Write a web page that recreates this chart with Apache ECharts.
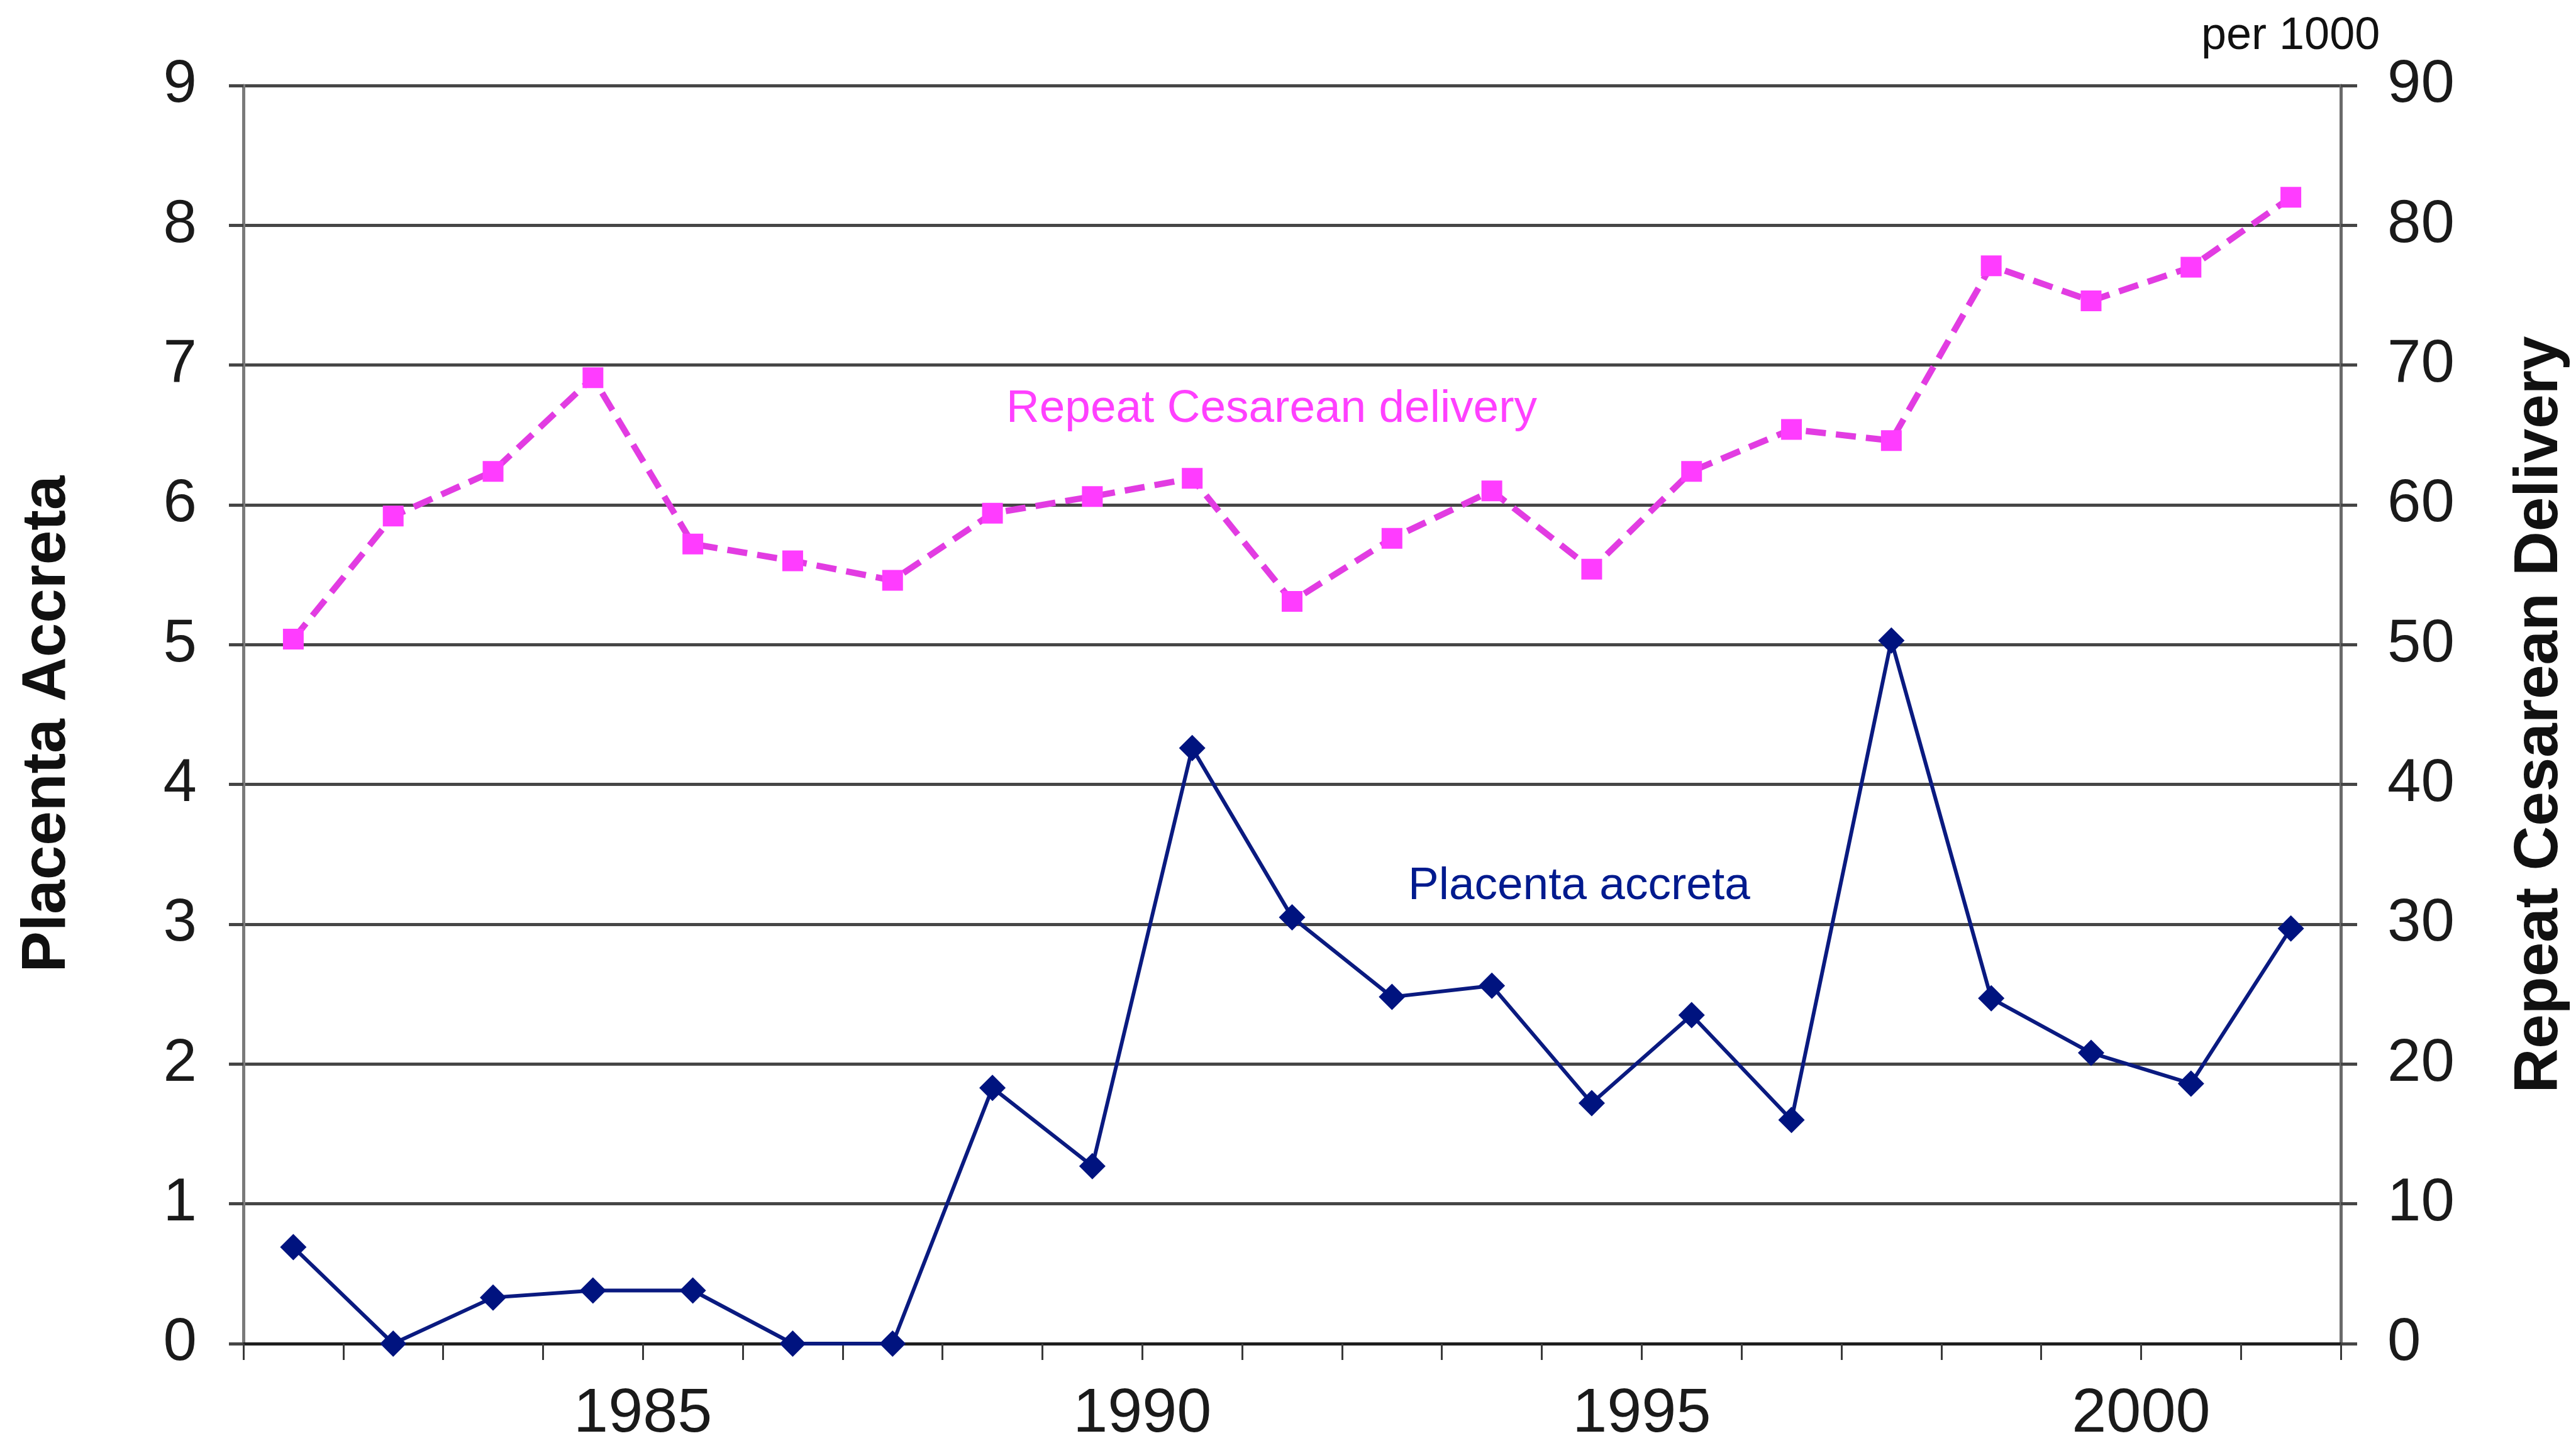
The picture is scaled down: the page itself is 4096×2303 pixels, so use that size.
<!DOCTYPE html>
<html>
<head>
<meta charset="utf-8">
<script src="https://cdn.jsdelivr.net/npm/echarts@6/dist/echarts.min.js"></script>
<style>
html,body{margin:0;padding:0;background:#fff;}
#chart{width:4096px;height:2303px;}
</style>
</head>
<body>
<div id="chart"></div>
<script>
// Year bins (each point sits at the middle of its year on the axis)
const years = [1981,1982,1983,1984,1985,1986,1987,1988,1989,1990,1991,1992,1993,1994,1995,1996,1997,1998,1999,2000,2001];
// Placenta accreta (left axis)
const accreta = [0.69,0,0.33,0.38,0.38,0,0,1.83,1.27,4.26,3.05,2.48,2.56,1.72,2.35,1.60,5.03,2.47,2.08,1.86,2.97];
// Repeat Cesarean delivery, per 1000 (right axis)
const repeatCesarean = [50.4,59.2,62.4,69.1,57.2,56.0,54.6,59.4,60.6,61.9,53.1,57.6,61.0,55.4,62.4,65.4,64.6,77.1,74.6,77.0,82.0];
// Axis ticks
const xMin = 1981, xMax = 2002, xLabelEvery = 5;
const leftTicks = {min: 0, max: 9, interval: 1};
const rightTicks = {min: 0, max: 90, interval: 10};
const leftTitle = 'Placenta Accreta';
const rightTitle = 'Repeat Cesarean Delivery';
const seriesNames = ['Placenta accreta', 'Repeat Cesarean delivery'];
const unitNote = 'per 1000';

const FONT = '"Liberation Sans", Arial, Helvetica, sans-serif';
const chart = echarts.init(document.getElementById('chart'));

const option = {
  backgroundColor: '#ffffff',
  animation: false,
  grid: {left: 387, right: 372, top: 136, bottom: 166, containLabel: false},
  xAxis: {
    type: 'value', min: xMin, max: xMax, interval: 1,
    axisLine: {show: true, lineStyle: {color: '#1e1e1e', width: 5}},
    axisTick: {show: true, inside: false, length: 26, lineStyle: {color: '#3a3a3a', width: 3}},
    splitLine: {show: false},
    axisLabel: {
      show: true, margin: 63, fontSize: 99, color: '#1a1a1a', fontFamily: FONT,
      formatter: v => (v % xLabelEvery === 0 ? String(v) : '')
    }
  },
  yAxis: [
    {
      type: 'value', position: 'left', min: leftTicks.min, max: leftTicks.max, interval: leftTicks.interval,
      name: leftTitle, nameLocation: 'middle', nameRotate: 90, nameGap: 262,
      nameTextStyle: {fontSize: 98, fontWeight: 'bold', color: '#111', fontFamily: FONT, padding: [0, 30, 0, 0]},
      axisLine: {show: true, lineStyle: {color: '#7a7a7a', width: 5}},
      axisTick: {show: true, inside: false, length: 23, lineStyle: {color: '#454545', width: 5}},
      splitLine: {show: true, lineStyle: {color: '#464646', width: 5}},
      axisLabel: {margin: 74, fontSize: 96, color: '#1a1a1a', fontFamily: FONT}
    },
    {
      type: 'value', position: 'right', min: rightTicks.min, max: rightTicks.max, interval: rightTicks.interval,
      name: rightTitle, nameLocation: 'middle', nameRotate: 90, nameGap: 268,
      nameTextStyle: {fontSize: 98, fontWeight: 'bold', color: '#111', fontFamily: FONT},
      axisLine: {show: true, lineStyle: {color: '#6a6a6a', width: 5}},
      axisTick: {show: true, inside: false, length: 26, lineStyle: {color: '#454545', width: 5}},
      splitLine: {show: false},
      axisLabel: {margin: 74, fontSize: 96, color: '#1a1a1a', fontFamily: FONT}
    }
  ],
  series: [
    {
      name: seriesNames[0], type: 'line', xAxisIndex: 0, yAxisIndex: 0,
      data: years.map((y, i) => [y + 0.5, accreta[i]]),
      symbol: 'diamond', symbolSize: 42,
      lineStyle: {color: '#0a1a80', width: 6},
      itemStyle: {color: '#00137f', borderWidth: 0},
      z: 4
    },
    {
      name: seriesNames[1], type: 'line', xAxisIndex: 0, yAxisIndex: 1,
      data: years.map((y, i) => [y + 0.5, repeatCesarean[i]]),
      symbol: 'rect', symbolSize: 33,
      lineStyle: {color: '#e23ce2', width: 10, type: [32, 16]},
      itemStyle: {color: '#ff3cff', borderWidth: 0},
      z: 5
    }
  ],
  graphic: [
    {type: 'text', left: 1600, top: 614, style: {text: seriesNames[1], fontSize: 73, fontFamily: FONT, fill: '#ff40ff'}},
    {type: 'text', left: 2239, top: 1373, style: {text: seriesNames[0], fontSize: 73, fontFamily: FONT, fill: '#001a8e'}},
    {type: 'text', left: 3500, top: 22, style: {text: unitNote, fontSize: 72, fontFamily: FONT, fill: '#111111'}}
  ]
};
chart.setOption(option);
</script>
</body>
</html>
